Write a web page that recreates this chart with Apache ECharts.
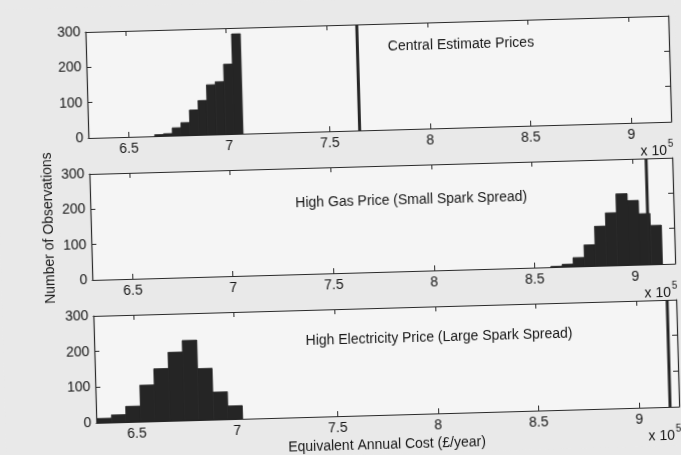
<!DOCTYPE html>
<html>
<head>
<meta charset="utf-8">
<script src="https://cdn.jsdelivr.net/npm/echarts@6/dist/echarts.min.js"></script>
<style>
  html, body { margin: 0; padding: 0; background: #e9e9e9; overflow: hidden; }
  #chart { width: 681px; height: 455px; transform: rotate(-1.6deg); transform-origin: 50% 50%; }
</style>
</head>
<body>
<div id="chart"></div>
<script>
// Equivalent annual cost, in units of 10^5 £/year
const xTicks = [6.5, 7, 7.5, 8, 8.5, 9];
const yTicks = [0, 100, 200, 300];
const xMin = 6.3, xMax = 9.2;

const scenarioTitles = [
  'Central Estimate Prices',
  'High Gas Price (Small Spark Spread)',
  'High Electricity Price (Large Spark Spread)'
];

// Histogram bin edges and counts (1000 Monte Carlo runs per scenario)
const centralEdges = [6.630, 6.674, 6.718, 6.762, 6.806, 6.850, 6.894, 6.938, 6.982, 7.026, 7.070];
const centralCounts = [4, 6, 22, 36, 71, 97, 141, 149, 198, 283];
const centralRef = 7.65;

const highGasEdges = [8.582, 8.638, 8.693, 8.749, 8.804, 8.860, 8.915, 8.971, 9.026, 9.082, 9.137];
const highGasCounts = [2, 7, 25, 60, 112, 149, 202, 182, 144, 110];
const highGasRef = 9.07;

const highElecEdges = [6.303, 6.376, 6.448, 6.521, 6.593, 6.666, 6.738, 6.811, 6.883, 6.956, 7.028];
const highElecCounts = [12, 21, 44, 102, 147, 192, 224, 144, 77, 37];
const highElecRef = 9.155;

const panels = [
  { edges: centralEdges, counts: centralCounts, ref: centralRef },
  { edges: highGasEdges, counts: highGasCounts, ref: highGasRef },
  { edges: highElecEdges, counts: highElecCounts, ref: highElecRef }
];

const FONT = '"Liberation Sans", Arial, Helvetica, sans-serif';
const FS = 14;
const INK = '#161616';
const AXIS = '#2a2a2a';
const BAR = '#252525';

const gridBoxes = [
  { left: 91, top: 25, width: 583, height: 106 },
  { left: 91, top: 167, width: 583, height: 106 },
  { left: 91, top: 309, width: 583, height: 107 }
];

const grids = [], xAxes = [], yAxes = [], series = [], graphics = [];

gridBoxes.forEach((g, i) => {
  grids.push(Object.assign({ show: true, backgroundColor: '#f5f5f5', borderWidth: 0 }, g));

  const xBase = {
    gridIndex: i, type: 'value', min: xMin, max: xMax,
    axisLine: { show: true, onZero: false, lineStyle: { color: AXIS, width: 1.2 } },
    axisTick: { show: true, inside: true, length: 5, customValues: xTicks, lineStyle: { color: AXIS } },
    splitLine: { show: false }
  };
  xAxes.push(Object.assign({}, xBase, {
    position: 'bottom',
    axisLabel: { show: true, customValues: xTicks, color: INK, fontSize: FS, fontFamily: FONT, margin: 5,
                 formatter: v => String(v) }
  }));
  xAxes.push(Object.assign({}, xBase, { position: 'top', axisLabel: { show: false } }));

  const yBase = {
    gridIndex: i, type: 'value', min: 0, max: 300, interval: 100,
    axisLine: { show: true, onZero: false, lineStyle: { color: AXIS, width: 1.2 } },
    axisTick: { show: true, inside: true, length: 5, lineStyle: { color: AXIS } },
    splitLine: { show: false }
  };
  yAxes.push(Object.assign({}, yBase, {
    position: 'left',
    axisLabel: { show: true, color: INK, fontSize: FS, fontFamily: FONT, margin: 5,
                 customValues: yTicks }
  }));
  yAxes.push(Object.assign({}, yBase, { position: 'right', axisLabel: { show: false } }));

  const p = panels[i];
  const binData = p.counts.map((c, k) => [p.edges[k], p.edges[k + 1], c]);

  series.push({
    type: 'custom',
    xAxisIndex: 2 * i, yAxisIndex: 2 * i,
    silent: true,
    data: binData,
    encode: { x: [0, 1], y: 2 },
    renderItem: (params, api) => {
      const topLeft = api.coord([api.value(0), api.value(2)]);
      const bottomRight = api.coord([api.value(1), 0]);
      return {
        type: 'rect',
        shape: { x: topLeft[0], y: topLeft[1], width: bottomRight[0] - topLeft[0], height: bottomRight[1] - topLeft[1] },
        style: { fill: BAR, stroke: BAR, lineWidth: 0.8 }
      };
    }
  });

  // deterministic cost marker
  series.push({
    type: 'line',
    xAxisIndex: 2 * i, yAxisIndex: 2 * i,
    silent: true, symbol: 'none',
    data: [[p.ref, 0], [p.ref, 300]],
    lineStyle: { color: '#262626', width: 3 },
    z: 3
  });

  // x 10^5 exponent under each axis
  const right = g.left + g.width;
  const bottom = g.top + g.height;
  graphics.push({
    type: 'text', x: right - 5, y: bottom + 29,
    style: { text: 'x 10', fill: INK, font: FS + 'px ' + FONT, align: 'right', verticalAlign: 'middle' }
  });
  graphics.push({
    type: 'text', x: right - 4, y: bottom + 22,
    style: { text: '5', fill: INK, font: '10px ' + FONT, align: 'left', verticalAlign: 'middle' }
  });
});

// scenario captions inside each panel
const captionPos = [[466, 48], [412, 202], [436, 340]];
scenarioTitles.forEach((t, i) => {
  graphics.push({
    type: 'text', x: captionPos[i][0], y: captionPos[i][1],
    style: { text: t, fill: INK, font: FS + 'px ' + FONT, align: 'center', verticalAlign: 'middle' }
  });
});

graphics.push({
  type: 'text', x: 49, y: 220, rotation: Math.PI / 2,
  style: { text: 'Number of Observations', fill: INK, font: FS + 'px ' + FONT, align: 'center', verticalAlign: 'middle' }
});
graphics.push({
  type: 'text', x: 381, y: 446,
  style: { text: 'Equivalent Annual Cost (£/year)', fill: INK, font: FS + 'px ' + FONT, align: 'center', verticalAlign: 'middle' }
});

const chart = echarts.init(document.getElementById('chart'), null, { renderer: 'canvas' });
chart.setOption({
  backgroundColor: '#e9e9e9',
  animation: false,
  grid: grids,
  xAxis: xAxes,
  yAxis: yAxes,
  series: series,
  graphic: graphics
});
</script>
</body>
</html>
